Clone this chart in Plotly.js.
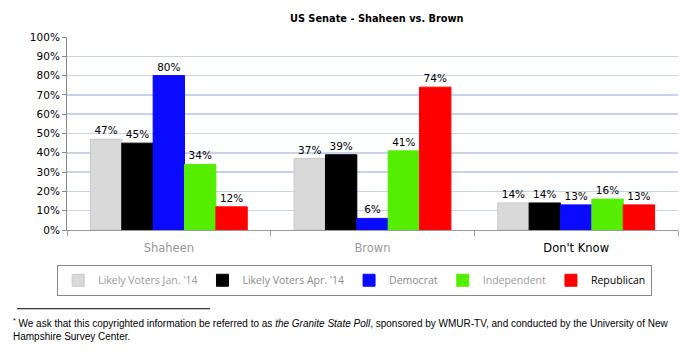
<!DOCTYPE html>
<html><head><meta charset="utf-8">
<script src="https://cdn.plot.ly/plotly-3.0.1.min.js"></script>
<style>body{margin:0;background:#fff}#c{width:690px;height:353px}</style>
</head><body><div id="c"></div>
<script>
const categories = ['Shaheen', 'Brown', "Don't Know"];
const categoryColors = ['#999999', '#999999', '#000000'];
const seriesNames = ["Likely Voters Jan. '14", "Likely Voters Apr. '14", 'Democrat', 'Independent', 'Republican'];
const janVoters = [0.47, 0.37, 0.14];
const aprVoters = [0.45, 0.39, 0.14];
const democrat = [0.80, 0.06, 0.13];
const independent = [0.34, 0.41, 0.16];
const republican = [0.12, 0.74, 0.13];
const seriesValues = [janVoters, aprVoters, democrat, independent, republican];
const seriesColors = ['#d9d9d9', '#000000', '#0a0aff', '#55ee00', '#ff0000'];
const legendTextColors = ['#9a9a9a', '#8a8a8a', '#8a8a8a', '#9a9a9a', '#000000'];

const traces = seriesValues.map((vals, i) => ({
  type: 'bar',
  x: categories,
  y: vals,
  name: '<span style="color:' + legendTextColors[i] + '">' + seriesNames[i] + '</span>',
  marker: {color: seriesColors[i], line: {color: i === 0 ? '#c8c8c8' : seriesColors[i], width: 1}},
  text: vals.map(v => Math.round(v * 100) + '%'),
  textposition: 'outside',
  constraintext: 'none',
  cliponaxis: false,
  textfont: {family: 'DejaVu Sans, Verdana, sans-serif', size: 10.5, color: '#000'},
  hoverinfo: 'none'
}));

const layout = {
  width: 690, height: 353,
  margin: {l: 67, r: 12, t: 37, b: 123, autoexpand: false},
  paper_bgcolor: '#fff', plot_bgcolor: '#fff',
  barmode: 'group', bargap: 0.23, bargroupgap: 0,
  showlegend: true,
  title: {text: '<b>US Senate - Shaheen vs. Brown</b>', x: 0.507, xref: 'paper', xanchor: 'center', y: 14, yref: 'container', yanchor: 'middle',
          font: {family: 'DejaVu Sans, Verdana, sans-serif', size: 9.8, color: '#000'}},
  xaxis: {
    tickmode: 'array', tickvals: categories,
    ticktext: categories.map((c, i) => '<span style="color:' + categoryColors[i] + '">' + c + '</span>'),
    tickangle: 0,
    tickson: 'boundaries', ticks: 'outside', ticklen: 5, tickcolor: '#999',
    ticklabelstandoff: 7,
    showline: true, linecolor: '#999', linewidth: 1,
    tickfont: {family: 'DejaVu Sans, Verdana, sans-serif', size: 11.5, color: '#999'},
    showgrid: false, fixedrange: true
  },
  yaxis: {
    range: [0, 1], dtick: 0.1, tickformat: '.0%',
    showgrid: true, gridcolor: '#c5d3ef', gridwidth: 1.5,
    showline: true, linecolor: '#888', linewidth: 1,
    ticks: 'outside', ticklen: 4, tickcolor: '#888',
    zeroline: false,
    tickfont: {family: 'DejaVu Sans, Verdana, sans-serif', size: 10.5, color: '#000'},
    fixedrange: true
  },
  legend: {
    orientation: 'h', x: 0.514, xref: 'container', xanchor: 'center',
    y: 0.25, yref: 'container', yanchor: 'top',
    bordercolor: '#888', borderwidth: 1, bgcolor: '#fff',
    font: {family: 'Open Sans, sans-serif', size: 10.5, color: '#000'},
    itemwidth: 30, traceorder: 'normal'
  },
  shapes: [
    {type: 'line', xref: 'paper', yref: 'paper', x0: -0.082, x1: 0.234, y0: -0.408, y1: -0.408,
     line: {color: '#000', width: 1}}
  ],
  annotations: [
    {xref: 'paper', yref: 'paper', x: -0.092, y: -0.44, xanchor: 'left', yanchor: 'top', align: 'left', showarrow: false,
     text: '<sup>*</sup> We ask that this copyrighted information be referred to as <i>the Granite State Poll</i>, sponsored by WMUR-TV, and conducted by the University of New<br>Hampshire Survey Center.',
     font: {family: 'Liberation Sans Narrow, Liberation Sans, sans-serif', size: 10, color: '#000'}}
  ]
};

Plotly.newPlot('c', traces, layout, {displayModeBar: false, staticPlot: true});
</script>
</body></html>
